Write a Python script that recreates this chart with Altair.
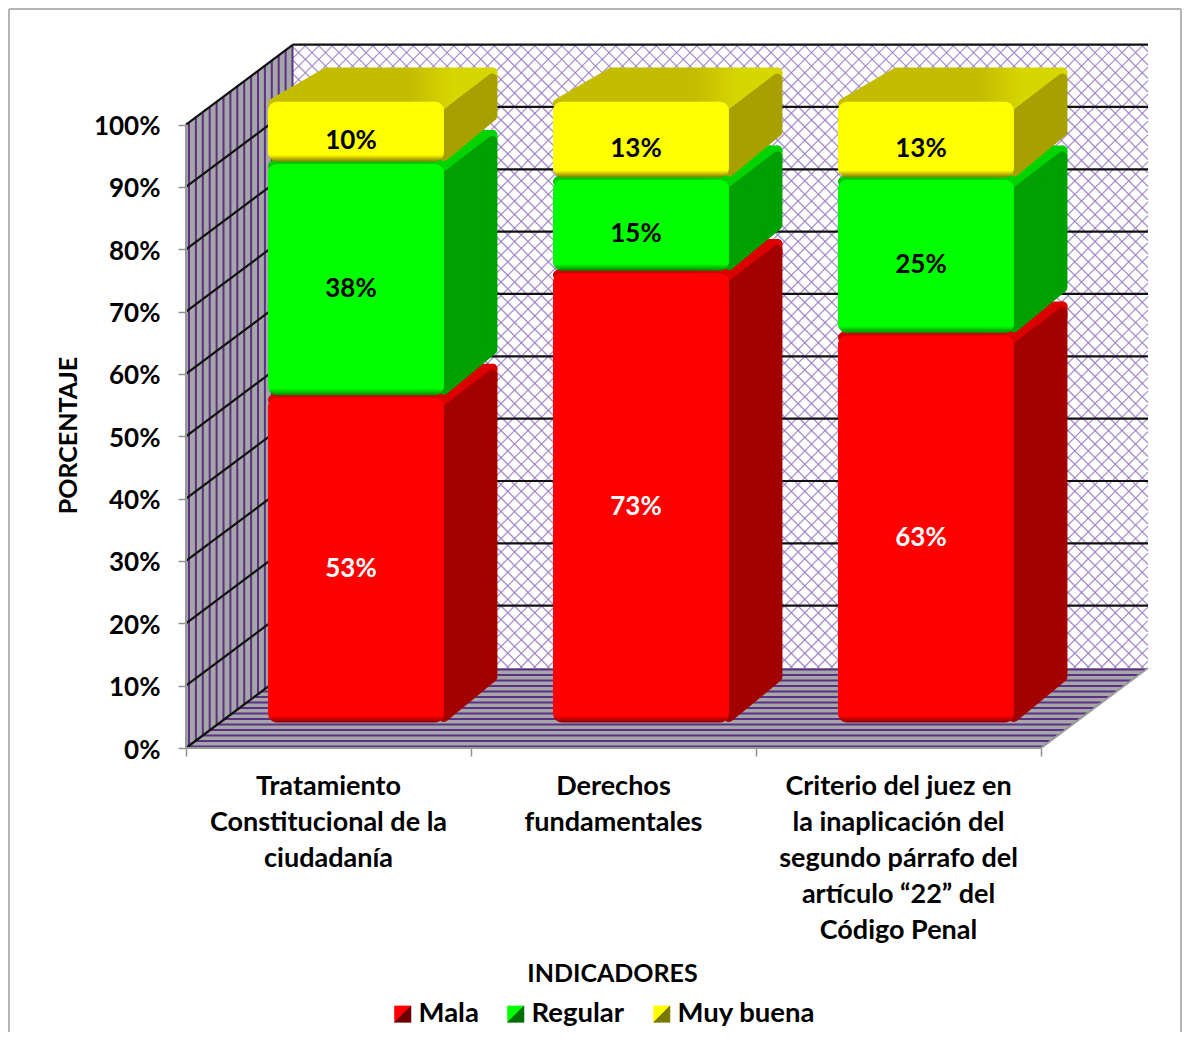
import altair as alt
import pandas as pd

categories = ["Tratamiento\nConstitucional de la\nciudadanía",
              "Derechos\nfundamentales",
              "Criterio del juez en\nla inaplicación del\nsegundo párrafo del\nartículo  “22” del\nCódigo Penal"]
series = ["Mala", "Regular", "Muy buena"]
mala = [52.5, 72.5, 62.5]
regular = [37.5, 15.0, 25.0]
muy_buena = [10.0, 12.5, 12.5]
labels_mala = ["53%", "73%", "63%"]
labels_regular = ["38%", "15%", "25%"]
labels_muy = ["10%", "13%", "13%"]
y_ticks = [0, 10, 20, 30, 40, 50, 60, 70, 80, 90, 100]

FONT = "Lato"
FRONT = {"Mala": "#ff0000", "Regular": "#00ff00", "Muy buena": "#ffff00"}
EDGE = {"Mala": "#8a0000", "Regular": "#008a00", "Muy buena": "#8a7a00"}
SIDE = {"Mala": "#a30000", "Regular": "#00a000", "Muy buena": "#a8a000"}
TOP = {"Mala": "#d00000", "Regular": "#00c800", "Muy buena": "#c4bc00"}
TOP2 = {"Mala": "#dc0000", "Regular": "#00d400", "Muy buena": "#d6d600"}
LEG_DARK = {"Mala": "#6e0000", "Regular": "#006e00", "Muy buena": "#7a7a00"}

# geometry of the oblique projection
UX, UY = 285.0, 6.234            # px per category, px per percent
WALL_DX_PX, WALL_DY_PX = 107.0, 80.0
WALL_DX, WALL_DY = WALL_DX_PX / UX, WALL_DY_PX / UY
W_PX, H_PX = 963.0, 705.0
x_scale = alt.Scale(domain=[0, W_PX / UX], range=[0, W_PX], nice=False, zero=False)
y_scale = alt.Scale(domain=[0, H_PX / UY], range=[H_PX, 0], nice=False, zero=False)
AX = alt.Axis(
    values=[0, 1, 2, 3], labels=False, domain=False, grid=False, ticks=True,
    tickSize=8, tickColor="#909090", tickWidth=1.5, title="INDICADORES",
    titleFont=FONT, titleFontSize=25, titleFontWeight="bold", titleColor="#000000",
    titleX=426, titleY=225, titleBaseline="middle", titleAnchor="middle", titleAlign="center")
AY = alt.Axis(
    values=y_ticks, labelExpr="datum.value + '%'", domain=False, grid=False,
    tickSize=8, tickColor="#909090", tickWidth=1.5, labelPadding=18,
    labelFont=FONT, labelFontSize=26, labelFontWeight="bold", labelColor="#000000",
    labelOverlap=False, labelFlush=False, labelOffset=2, title="PORCENTAJE",
    titleFont=FONT, titleFontSize=25, titleFontWeight="bold", titleColor="#000000",
    titleX=-118, titleY=392, titleBaseline="middle", titleAnchor="middle", titleAlign="center")
XF = alt.X("x:Q", scale=x_scale, axis=AX)
YF = alt.Y("y:Q", scale=y_scale, axis=AY)
X2 = alt.X2("x2:Q")
Y2 = alt.Y2("y2:Q")

D0, D1 = 0.325, 0.825
B_L, B_R = 0.1656, 0.783
IX, IY = 5 / UX, 5 / UY
RIM = 12 / UY
TOP_DROP = 9 / UY
SIDE_DROP = 3 / UY


def px_(c, d):
    return c + d * WALL_DX


def py_(v, d):
    return v + d * WALL_DY


def rules(rows, stroke, width, opacity=1.0):
    return alt.Chart(pd.DataFrame(rows, columns=["x", "x2", "y", "y2"])).mark_rule(
        stroke=stroke, strokeWidth=width, opacity=opacity
    ).encode(x=XF, x2=X2, y=YF, y2=Y2)


layers = []

# first layer: carries the legend (hidden under the walls)
leg_rows = [{"x": 0.5 + i + 0.3, "y": 30.0, "Serie": s} for i, s in enumerate(series)]
leg_range = [
    {"expr": "{gradient:'linear',x1:0,y1:0,x2:1,y2:1,stops:["
             f"{{offset:0,color:'{FRONT[s]}'}},{{offset:0.5,color:'{FRONT[s]}'}},"
             f"{{offset:0.5,color:'{LEG_DARK[s]}'}},{{offset:1,color:'{LEG_DARK[s]}'}}]}}"}
    for s in series
]
layers.append(
    alt.Chart(pd.DataFrame(leg_rows)).mark_square(size=10, opacity=1).encode(
        x=XF, y=YF,
        fill=alt.Fill("Serie:N", scale=alt.Scale(domain=series, range=leg_range),
                      sort=series,
                      legend=alt.Legend(orient="none", legendX=203, legendY=957, direction="horizontal",
                                        title=None, symbolType="square", symbolSize=289,
                                        symbolStrokeWidth=0, labelOffset=2, columnPadding=23,
                                        labelFont=FONT, labelFontSize=27.5, labelFontWeight="bold",
                                        labelColor="#000000", symbolOpacity=1)),
    )
)

# back wall: white ground
wall_bg = pd.DataFrame([{"x": WALL_DX, "x2": WALL_DX + 3, "y": WALL_DY, "y2": WALL_DY + 100}])
layers.append(alt.Chart(wall_bg).mark_rect(fill="#ffffff").encode(x=XF, x2=X2, y=YF, y2=Y2))

# back wall lattice
P = 13.5
WW, WH = 3 * UX, 100 * UY
rows = []


def wall_x(p):
    return WALL_DX + p / UX


def wall_y(p):
    return WALL_DY + p / UY


k = -WH
while k < WW:
    # rising line: y = x - k, clipped to the wall rectangle
    x0 = max(0.0, k)
    x1 = min(WW, k + WH)
    if x1 > x0:
        rows.append([wall_x(x0), wall_x(x1), wall_y(x0 - k), wall_y(x1 - k)])
    k += P
k = 0.0
while k < WW + WH:
    # falling line: y = k - x
    x0 = max(0.0, k - WH)
    x1 = min(WW, k)
    if x1 > x0:
        rows.append([wall_x(x0), wall_x(x1), wall_y(k - x0), wall_y(k - x1)])
    k += P
layers.append(rules(rows, "#9a7cc4", 1.3, 0.85))

# back wall gridlines
rows = [[WALL_DX, WALL_DX + 3, WALL_DY + v, WALL_DY + v] for v in y_ticks[1:]]
layers.append(rules(rows, "#111111", 2.2))

# left wall
left = pd.DataFrame({"x": [0, WALL_DX], "y": [100, 100 + WALL_DY], "y2": [0, WALL_DY]})
layers.append(alt.Chart(left).mark_area(fill="#a6a6a6", opacity=1).encode(x=XF, y=YF, y2=Y2))
rows = []
sp = 6.9
p = 3.0
while p < WALL_DX_PX:
    t = p / WALL_DX_PX
    xx = p / UX
    rows.append([xx, xx, t * WALL_DY, 100 + t * WALL_DY])
    p += sp
layers.append(rules(rows, "#5b3088", 2.0))

# floor
floor = pd.DataFrame({"y": [0, WALL_DY], "x": [0, WALL_DX], "x2": [3, 3 + WALL_DX]})
layers.append(alt.Chart(floor).mark_area(fill="#a6a6a6", orient="horizontal", opacity=1).encode(
    x=XF, x2=X2, y=YF))
rows = []
p = 1.5
while p < WALL_DY_PX:
    t = p / WALL_DY_PX
    vv = t * WALL_DY
    rows.append([t * WALL_DX, 3 + t * WALL_DX, vv, vv])
    p += 5.5
layers.append(rules(rows, "#5b3088", 2.1))

# side wall gridlines (and rims)
rows = [[0, WALL_DX, v, v + WALL_DY] for v in y_ticks]
layers.append(rules(rows, "#111111", 2.2))
layers.append(rules([[0, 0, 0, 100], [0, 3, 0, 0], [3, 3 + WALL_DX, 0, WALL_DY]], "#999999", 2))

# bars
val_by_series = {"Mala": mala, "Regular": regular, "Muy buena": muy_buena}
lab_by_series = {"Mala": labels_mala, "Regular": labels_regular, "Muy buena": labels_muy}
label_rows = []
for i in range(len(categories)):
    base = 0.0
    for s in series:
        v = val_by_series[s][i]
        vb, vt = base, base + v
        base = vt
        xl, xr = i + B_L, i + B_R
        # rim between the top face and the side face
        rim = pd.DataFrame({
            "x": [px_(xr, D0), px_(xr, D1) - IX],
            "y": [py_(vt, D0) - IY, py_(vt, D1) - IY - TOP_DROP],
            "y2": [py_(vt, D0) - RIM - 2 * IY, py_(vt, D1) - RIM - 2 * IY - SIDE_DROP],
        })
        layers.append(alt.Chart(rim).mark_area(
            fill=TOP2[s], stroke=TOP2[s], strokeWidth=10, strokeJoin="round", opacity=1
        ).encode(x=XF, y=YF, y2=Y2))
        # top face
        top = pd.DataFrame({
            "y": [py_(vt, D0) - IY, py_(vt, D1) - IY - TOP_DROP],
            "x": [px_(xl, D0) + IX, px_(xl, D1) + IX],
            "x2": [px_(xr, D0) - IX, px_(xr, D1) - IX],
        })
        grad_top = alt.LinearGradient(gradient="linear", x1=0, x2=1, y1=0, y2=0, stops=[
            alt.GradientStop(offset=0, color=TOP[s]),
            alt.GradientStop(offset=0.62, color=TOP[s]),
            alt.GradientStop(offset=0.82, color=TOP2[s]),
            alt.GradientStop(offset=1, color=TOP2[s]),
        ])
        layers.append(alt.Chart(top).mark_area(
            fill=grad_top, stroke=grad_top, strokeWidth=10, strokeJoin="round",
            orient="horizontal", opacity=1
        ).encode(x=XF, x2=X2, y=YF))
        # side face, its upper edge lowered below the rim
        side = pd.DataFrame({
            "x": [px_(xr, D0), px_(xr, D1) - IX],
            "y": [py_(vt, D0) - RIM - IY, py_(vt, D1) - RIM - IY - SIDE_DROP],
            "y2": [py_(vb, D0) + IY, py_(vb, D1) + IY],
        })
        layers.append(alt.Chart(side).mark_area(
            fill=SIDE[s], stroke=SIDE[s], strokeWidth=10, strokeJoin="round", opacity=1
        ).encode(x=XF, y=YF, y2=Y2))
        # front face
        h_px = v * UY
        grad_front = alt.LinearGradient(gradient="linear", x1=0, x2=0, y1=0, y2=1, stops=[
            alt.GradientStop(offset=0, color=FRONT[s]),
            alt.GradientStop(offset=1 - 7 / h_px, color=FRONT[s]),
            alt.GradientStop(offset=1, color=EDGE[s]),
        ])
        front = pd.DataFrame([{"x": px_(xl, D0), "x2": px_(xr, D0),
                               "y": py_(vb, D0) - 0.1, "y2": py_(vt, D0) - 0.5}])
        layers.append(alt.Chart(front).mark_rect(fill=grad_front, cornerRadius=9).encode(
            x=XF, x2=X2, y=YF, y2=Y2))
        label_rows.append({"x": px_((xl + xr) / 2, D0), "y": py_((vb + vt) / 2, D0),
                           "t": lab_by_series[s][i],
                           "c": "#ffffff" if s == "Mala" else "#000000"})

layers.append(alt.Chart(pd.DataFrame(label_rows)).mark_text(
    font=FONT, fontSize=26, fontWeight="bold", dx=-5, dy=11, baseline="middle", align="center"
).encode(x=XF, y=YF, text="t:N", color=alt.Color("c:N", scale=None, legend=None)))

# category labels
cat_rows = [{"x": i + 0.5, "y": -26 / UY, "t": c} for i, c in enumerate(categories)]
layers.append(alt.Chart(pd.DataFrame(cat_rows)).mark_text(
    font=FONT, fontSize=27, fontWeight="bold", color="#000000", lineBreak="\n", lineHeight=36,
    baseline="top", align="center"
).encode(x=XF, y=YF, text="t:N"))

# outer frame of the picture
layers.append(alt.Chart(pd.DataFrame({"a": [0]})).mark_rule(stroke="#b4b4b4", strokeWidth=2).encode(
    x=alt.value(-177), y=alt.value(-34), y2=alt.value(989)))
layers.append(alt.Chart(pd.DataFrame({"a": [0]})).mark_rule(stroke="#b4b4b4", strokeWidth=2).encode(
    x=alt.value(995), y=alt.value(-34), y2=alt.value(989)))
layers.append(alt.Chart(pd.DataFrame({"a": [0]})).mark_rule(stroke="#b4b4b4", strokeWidth=2).encode(
    x=alt.value(-177), x2=alt.value(995), y=alt.value(-34)))

chart = alt.layer(*layers).properties(
    width=W_PX, height=H_PX,
    padding={"left": 178, "top": 35, "right": 33, "bottom": 284},
    autosize=alt.AutoSizeParams(type="none"),
    background="#ffffff",
).configure_view(stroke=None)

chart.save("out.html", embed_options={"renderer": "svg", "actions": False})
